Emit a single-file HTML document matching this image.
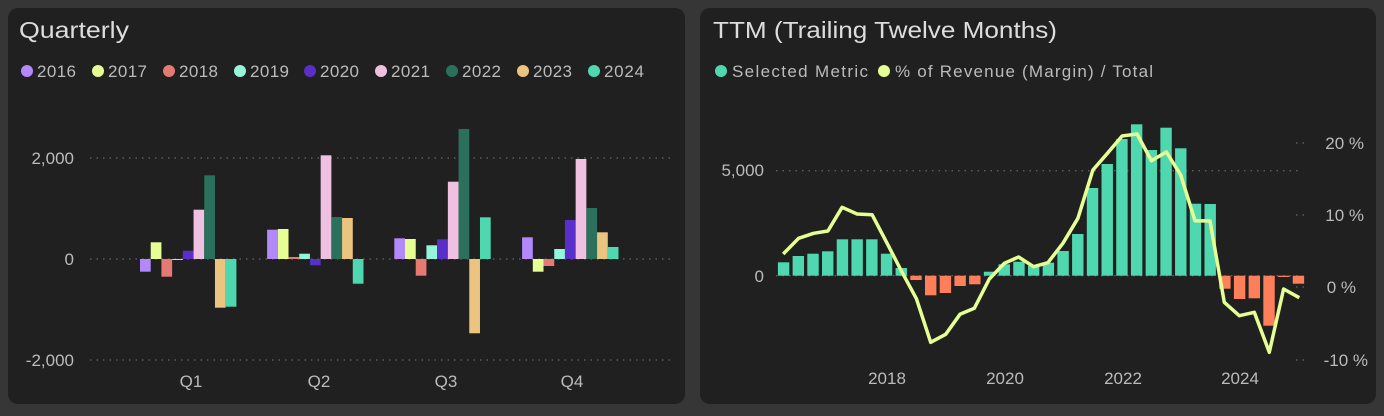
<!DOCTYPE html>
<html><head><meta charset="utf-8"><style>
html,body{margin:0;padding:0;background:#363636;width:1384px;height:416px;overflow:hidden}
svg{display:block;font-family:"Liberation Sans",sans-serif}
</style></head><body>
<svg width="1384" height="416" viewBox="0 0 1384 416">
<rect x="0" y="0" width="1384" height="416" fill="#363636"/>
<rect x="8" y="8" width="677" height="396" rx="10" fill="#202020"/>
<rect x="700" y="8" width="676" height="396" rx="10" fill="#202020"/>
<g fill="#dddddd" font-size="23"><text x="19" y="38" textLength="110" lengthAdjust="spacingAndGlyphs">Quarterly</text><text x="713" y="38" textLength="344" lengthAdjust="spacingAndGlyphs">TTM (Trailing Twelve Months)</text></g>
<g font-size="17" fill="#bbbbbb">
<circle cx="27" cy="71" r="6" fill="#b388f9"/><text x="37" y="77" textLength="39">2016</text>
<circle cx="98" cy="71" r="6" fill="#e6ff94"/><text x="108" y="77" textLength="39">2017</text>
<circle cx="169" cy="71" r="6" fill="#e57a72"/><text x="179" y="77" textLength="39">2018</text>
<circle cx="240" cy="71" r="6" fill="#94f5db"/><text x="250" y="77" textLength="39">2019</text>
<circle cx="310" cy="71" r="6" fill="#5a2fc9"/><text x="320" y="77" textLength="39">2020</text>
<circle cx="381" cy="71" r="6" fill="#f0c0e0"/><text x="391" y="77" textLength="39">2021</text>
<circle cx="452" cy="71" r="6" fill="#2a705a"/><text x="462" y="77" textLength="39">2022</text>
<circle cx="523" cy="71" r="6" fill="#ebc47f"/><text x="533" y="77" textLength="39">2023</text>
<circle cx="594" cy="71" r="6" fill="#4fd8b0"/><text x="604" y="77" textLength="40">2024</text>
<circle cx="721" cy="71" r="6" fill="#4fd8b0"/><text x="732" y="77" textLength="136">Selected Metric</text>
<circle cx="884" cy="71" r="6" fill="#e6ff94"/><text x="895" y="77" textLength="258">% of Revenue (Margin) / Total</text>
</g>
<g stroke="#777" stroke-width="1" stroke-dasharray="1.5,5">
<line x1="90" y1="158" x2="672" y2="158"/><line x1="90" y1="259" x2="672" y2="259"/><line x1="90" y1="360" x2="672" y2="360"/>
<line x1="776" y1="170.7" x2="1300" y2="170.7"/><line x1="776" y1="275.7" x2="1300" y2="275.7"/>
<line x1="1296" y1="143" x2="1306" y2="143"/><line x1="1296" y1="215" x2="1306" y2="215"/><line x1="1296" y1="287" x2="1306" y2="287"/><line x1="1296" y1="360" x2="1306" y2="360"/>
</g>
<g font-size="17" fill="#bbbbbb" text-anchor="end">
<text x="74" y="164">2,000</text><text x="74" y="265">0</text><text x="74" y="366">-2,000</text>
<text x="764" y="176">5,000</text><text x="764" y="282">0</text>
<text x="1364" y="149">20 %</text><text x="1364" y="221">10 %</text><text x="1356" y="293">0 %</text><text x="1368" y="366">-10 %</text>
</g>
<g font-size="17" fill="#bbbbbb" text-anchor="middle">
<text x="191" y="387">Q1</text><text x="319" y="387">Q2</text><text x="446" y="387">Q3</text><text x="572" y="387">Q4</text>
<text x="887" y="384">2018</text><text x="1005" y="384">2020</text><text x="1123" y="384">2022</text><text x="1240" y="384">2024</text>
</g>
<g id="q"></g>
<g id="t"></g>
<polyline id="ln" fill="none" stroke="#e6ff94" stroke-width="3.5" stroke-linejoin="round" points=""/>
</svg>
<script>
var ns="http://www.w3.org/2000/svg";
function r(g,x,y1,y2,w,c){var e=document.createElementNS(ns,"rect");e.setAttribute("x",x);e.setAttribute("y",Math.min(y1,y2));e.setAttribute("width",w);e.setAttribute("height",Math.max(1,Math.abs(y2-y1)));e.setAttribute("fill",c);g.appendChild(e);}
var cols=["#b388f9","#e6ff94","#e57a72","#94f5db","#5a2fc9","#f0c0e0","#2a705a","#ebc47f","#4fd8b0"];
var Q=[[271.7,242.3,276.7,260,250.7,209.7,175.3,307.7,306.7],
[229.7,229,257,253.7,265.3,155.3,217,218,283.7],
[238.3,239,275.7,245.3,239.3,181.7,129,333.3,217.3],
[237.3,271.7,266,249,220,159,208,232.3,247]];
var starts=[140,267.1,394.3,522.1],g=document.getElementById("q");
for(var i=0;i<4;i++)for(var j=0;j<9;j++)r(g,starts[i]+j*10.71,259,Q[i][j],10.71,cols[j]);
var T=[262.3,256,253.7,251.3,239.3,239.3,239.3,253.7,268,280,295.3,293,286,284.3,271.7,264.3,261.7,265.7,262.7,251,234,188,164,139,124.3,150,127.7,148.3,203.7,204,288.7,299,298.3,325.7,277,283.7];
var t=document.getElementById("t");
for(var k=0;k<36;k++)r(t,777.9+k*14.71,275.7,T[k],11.4,T[k]>275.7?"#ff7f5a":"#4fd8b0");
var L=[[65,432],[108,385],[150,370],[190,363],[230,292],[272,312],[314,314],[356,400],[396,483],[438,566],[478,697],[520,673],[560,613],[600,595],[642,507],[684,460],[724,441],[766,470],[806,458],[848,400],[890,325],[932,180],[972,131],[1014,78],[1056,72],[1096,152],[1138,126],[1178,195],[1218,332],[1260,333],[1300,577],[1342,617],[1384,607],[1426,727],[1466,537],[1510,563]];
document.getElementById("ln").setAttribute("points",L.map(function(p){return (760+p[0]/2.8).toFixed(1)+","+(110+p[1]/3).toFixed(1);}).join(" "));
</script>
</body></html>
